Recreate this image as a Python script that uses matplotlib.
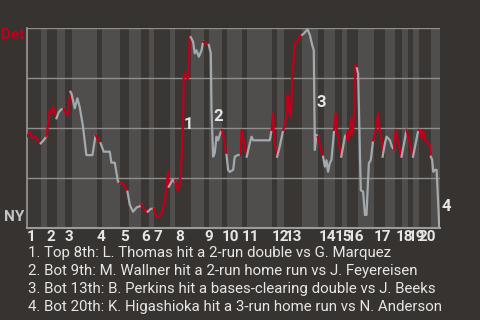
import matplotlib
matplotlib.use("Agg")
import matplotlib.pyplot as plt

# half-inning start (event index), top/bottom alternating; last value = end of game
half_starts = [0, 8, 11, 17, 21, 25, 39, 42, 52, 57, 64, 68, 71, 80, 83, 92, 99, 102,
               109, 112, 120, 123, 137, 140, 144, 154, 163, 166, 172, 176, 179, 185,
               194, 200, 206, 210, 213, 216, 219, 226]
game_end = 231
inning_labels = [str(i) for i in range(1, 21)]

# win probability for Det (1 = Det, 0 = NY), vertices
events = [0, 1.5, 3.2, 4.3, 6.0, 7.7, 9.3, 10.9, 12.7, 13.8, 14.5, 16.5, 17.7, 19.2, 20.5,
          21.7, 22.8, 24.3, 25.0, 26.7, 28.2, 29.5, 31.3, 33.2, 36.6, 38.4, 39.6, 41.2,
          42.9, 46.3, 47.2, 49.1, 50.9, 51.9, 52.7, 54.1, 56.2, 57.5, 59.3, 61.4, 63.1,
          63.8, 65.9, 67.5, 69.2, 70.9, 72.0, 72.7, 74.3, 75.2, 77.1, 78.0, 78.9, 79.3,
          81.4, 82.7, 82.9, 84.2, 85.4, 86.4, 87.3, 87.7, 88.2, 89.8, 90.7, 91.0, 91.6,
          92.9, 93.8, 94.8, 96.1, 97.6, 98.5, 99.4, 101.7, 102.8, 103.2, 104.1, 105.0,
          106.0, 106.9, 107.8, 108.8, 109.2, 111.6, 112.5, 113.4, 115.3, 116.2, 118.1,
          119.6, 120.0, 122.9, 124.6, 125.6, 126.5, 135.8, 136.8, 137.7, 138.2, 139.6,
          139.9, 141.4, 143.3, 144.2, 145.2, 145.7, 146.4, 147.0, 147.6, 148.3, 149.8,
          151.5, 152.6, 153.9, 155.0, 156.9, 158.2, 159.5, 160.4, 161.0, 161.9, 162.7,
          164.7, 165.6, 166.6, 167.5, 168.4, 169.4, 170.3, 171.8, 172.6, 173.3, 175.8,
          177.8, 178.7, 179.4, 180.0, 180.6, 181.1, 181.7, 182.4, 183.3, 183.7, 184.5,
          185.2, 185.6, 186.2, 186.7, 188.0, 189.0, 189.9, 190.5, 191.2, 192.3, 193.6,
          194.2, 195.1, 196.4, 197.3, 198.4, 198.9, 200.2, 201.1, 203.0, 204.1, 205.4,
          206.2, 209.5, 212.3, 215.9, 218.9, 219.7, 220.7, 221.6, 222.6, 224.1, 225.3,
          225.9, 226.6, 227.2, 228.1, 229.1, 230.0, 230.6]
win_prob = [.46, .48, .45, .46, .44, .425, .44, .46, .59, .575, .61, .55, .58, .595, .60,
            .575, .565, .683, .67, .60, .65, .605, .51, .366, .366, .467, .445, .425,
            .383, .383, .328, .328, .233, .226, .23, .217, .183, .117, .083, .105, .11,
            .12, .09, .083, .097, .10, .067, .055, .062, .075, .133, .208, .283, .208,
            .242, .23, .237, .19, .217, .342, .54, .758, .775, .745, .858, .958, .956,
            .933, .875, .89, .858, .89, .933, .928, .917, .875, .592, .358, .376,
            .458, .44, .467, .492, .492, .367, .292, .282, .292, .358, .367,
            .367, .492, .358, .425, .458, .44, .44, .492, .575, .44, .375,
            .358, .41, .492, .517, .567, .667, .583, .617, .558, .742, .925,
            .94, .967, .967, .975, .995, .967, .917, .89, .392, .467, .457,
            .383, .358, .308, .34, .283, .327, .342, .492, .575, .49, .358,
            .458, .475, .44, .49, .467, .55, .467, .49, .667, .817, .80,
            .775, .627, .375, .19, .183, .067, .067, .19, .325, .342, .44,
            .458, .49, .575, .49, .44, .358, .425, .458, .44, .408, .392,
            .492, .358, .492, .358, .492, .49, .45, .49, .44, .425, .417,
            .358, .342, .283, .292, .292, .125, 0.0]

# key plays: label, event where the label sits, win prob
key_ids = ["1", "2", "3", "4"]
key_events = [87.8, 104.2, 162.0, 231.8]
key_wp = [.52, .56, .63, .11]
key_text = [
    "1. Top 8th: L. Thomas hit a 2-run double vs G. Marquez",
    "2. Bot 9th: M. Wallner hit a 2-run home run vs J. Feyereisen",
    "3. Bot 13th: B. Perkins hit a bases-clearing double vs J. Beeks",
    "4. Bot 20th: K. Higashioka hit a 3-run home run vs N. Anderson",
]

BG = "#363330"
DARK_BAND = "#393633"
LIGHT_BAND = "#4f4e4c"
RED = "#c0001a"
GRAY = "#a3a9ad"
TXT = "#e6e6e6"

plt.rcParams["font.family"] = ["Roboto", "DejaVu Sans"]

fig = plt.figure(figsize=(4.8, 3.2), dpi=100, facecolor=BG)
ax = fig.add_axes([27 / 480, 1 - 228.3 / 320, 413 / 480, 200 / 320])
ax.set_facecolor(BG)

bounds = half_starts + [game_end]
for h in range(len(half_starts)):
    ax.axvspan(bounds[h], bounds[h + 1], color=DARK_BAND if h % 2 == 0 else LIGHT_BAND,
               lw=0, zorder=0)

for y in [0.25, 0.5, 0.75, 1.0]:
    ax.axhline(y, color="#8e8e8c", lw=1, zorder=1)

for h in range(len(half_starts)):
    lo, hi = bounds[h], bounds[h + 1]
    idx = [i for i, e in enumerate(events) if lo <= e < hi]
    if not idx:
        continue
    if idx[0] > 0:
        idx = [idx[0] - 1] + idx
    ax.plot([events[i] for i in idx], [win_prob[i] for i in idx],
            color=RED if h % 2 == 0 else GRAY, lw=1.6, zorder=3)

for k, e, w in zip(key_ids, key_events, key_wp):
    ax.text(e, w, k, color=TXT, fontsize=12, fontweight="bold", ha="left", va="center",
            zorder=4, clip_on=False)

ax.set_xlim(0, game_end)
ax.set_ylim(0, 1)
ax.set_yticks([])
ax.set_xticks(half_starts[::2])
ax.set_xticklabels(inning_labels, color=TXT, fontsize=11, fontweight="bold", ha="left")
ax.tick_params(axis="x", length=0, pad=1.5)
for s in ["top", "right"]:
    ax.spines[s].set_visible(False)
ax.spines["left"].set_color("#9a9a98")
ax.spines["left"].set_linewidth(1.2)
ax.spines["bottom"].set_color("#9a9a98")
ax.spines["bottom"].set_linewidth(1.5)

ax.text(-0.006, 1.0, "Det", transform=ax.transAxes, color=RED, fontsize=11,
        fontweight="bold", ha="right", va="top")
ax.text(-0.006, 0.02, "NY", transform=ax.transAxes, color="#c4c4c4", fontsize=11,
        fontweight="bold", ha="right", va="bottom")

for i, t in enumerate(key_text):
    fig.text(28 / 480, 1 - (252.7 + 18 * i) / 320, t, color=TXT, fontsize=10.8,
             ha="left", va="center")

fig.savefig("out.png", dpi=100, facecolor=BG)
